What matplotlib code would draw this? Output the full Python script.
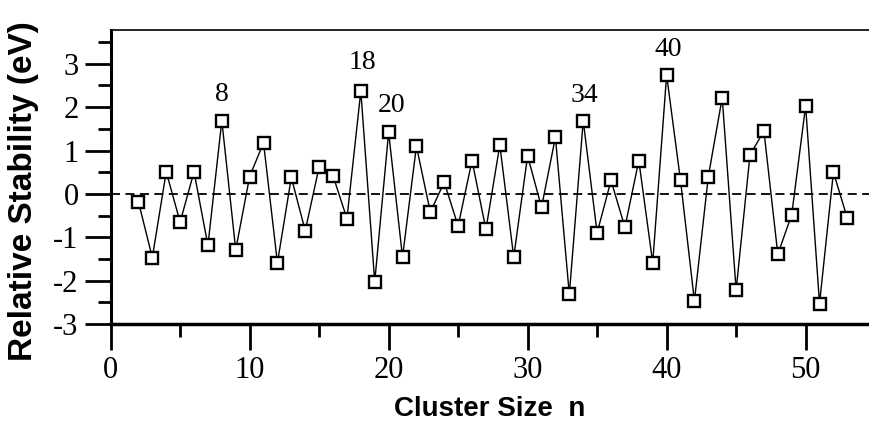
import matplotlib
matplotlib.use("Agg")
import matplotlib.pyplot as plt
import numpy as np
from matplotlib.ticker import MultipleLocator

plt.rcParams['axes.unicode_minus'] = False

# relative stability of n-atom clusters
n = np.arange(2, 54)
stability = [-0.18, -1.47, 0.51, -0.65, 0.51, -1.19, 1.69, -1.29, 0.40, 1.18,
             -1.59, 0.38, -0.85, 0.62, 0.42, -0.57, 2.37, -2.03, 1.42, -1.46,
             1.10, -0.42, 0.27, -0.74, 0.77, -0.82, 1.13, -1.46, 0.88, -0.31,
             1.31, -2.32, 1.69, -0.90, 0.31, -0.77, 0.77, -1.59, 2.74, 0.31,
             -2.47, 0.40, 2.22, -2.22, 0.90, 1.45, -1.39, -0.48, 2.03, -2.53,
             0.50, -0.56]

# magic numbers marked on the curve
magic_lbl = ["8", "18", "20", "34", "40"]
magic_x = [8.0, 18.15, 20.2, 34.1, 40.1]
magic_y = [2.30, 3.03, 2.03, 2.26, 3.32]

fig = plt.figure(figsize=(8.69, 4.29), dpi=100)
ax = fig.add_axes([0.1273, 0.2448, 0.8727, 0.6853])

ax.axhline(0, color="black", lw=1.3, ls=(0, (5, 3)), zorder=1)
ax.plot(n, stability, "-", color="black", lw=1.0, marker="s", ms=8.5,
        mfc="white", mec="black", mew=1.7, zorder=3)

for lbl, x, y in zip(magic_lbl, magic_x, magic_y):
    ax.text(x, y, lbl, ha="center", va="center", fontsize=20,
            family="Liberation Serif")

ax.set_xlim(0, 54.56)
ax.set_ylim(-3, 3.78)
ax.xaxis.set_major_locator(MultipleLocator(10))
ax.xaxis.set_minor_locator(MultipleLocator(5))
ax.yaxis.set_major_locator(MultipleLocator(1))
ax.yaxis.set_minor_locator(MultipleLocator(0.5))
ax.set_yticks(np.arange(-3, 4, 1))

ax.spines['right'].set_visible(False)
ax.spines['top'].set_linewidth(1.2)
ax.spines['left'].set_linewidth(2.2)
ax.spines['bottom'].set_linewidth(2.5)

ax.tick_params(which="major", direction="out", length=19, width=2, pad=4)
ax.tick_params(which="minor", direction="out", length=9.5, width=2)
ax.tick_params(top=False, right=False)
for t in ax.get_xticklabels() + ax.get_yticklabels():
    t.set_family("Liberation Serif")
    t.set_fontsize(22)

ax.set_xlabel("Cluster Size  n", fontsize=20, fontweight="bold",
              family="Liberation Sans")
ax.set_ylabel("Relative Stability (eV)", fontsize=24, fontweight="bold",
              family="Liberation Sans")
ax.xaxis.set_label_coords(0.5, -0.245)
ax.yaxis.set_label_coords(-0.095, 0.452)

plt.savefig("out.png", dpi=100)
